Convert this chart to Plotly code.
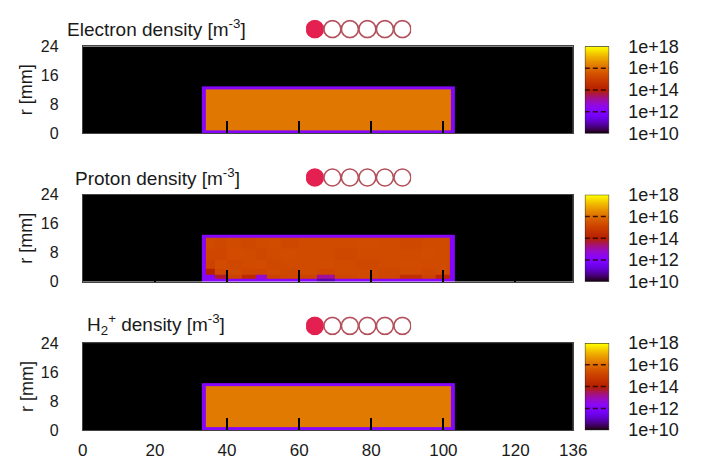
import math
import plotly.graph_objects as go

# ---------------- data ----------------
B = 10.0   # background (log10 density)
P = 12.2   # plasma edge
D = 11.0   # dark spot

# Electron density (log10 m^-3)
x_edges_e = [0, 33.1, 34.0, 102.0, 103.1, 136]
r_edges_e = [0, 0.9, 12.2, 13.1, 24]
z_e = [
    [B, P, P, P, B],
    [B, P, 16.2, P, B],
    [B, P, P, P, B],
    [B, B, B, B, B],
]

# Proton density (log10 m^-3)
x_edges_p = [0, 33.1, 34.0, 36.5, 40, 44, 48, 51, 55, 60, 65, 70, 76, 82, 88, 94, 98, 101.9, 103.1, 136]
r_edges_p = [0, 0.9, 2.0, 3.5, 6, 9, 12.2, 13.1, 24]
z_p = [
    [B, P, P, P, P, P, P, P, P, P, D, P, P, P, P, P, P, P, B],
    [B, P, P, 13.8, 15.1, 14.4, 12.8, 15.1, 15.2, 15.1, 13.2, 15.2, 15.3, 15.2, 14.6, 15.1, 14.3, P, B],
    [B, P, 14.0, 15.2, 15.3, 15.2, 15.2, 15.3, 15.25, 15.3, 15.2, 15.3, 15.3, 15.25, 15.3, 15.2, 15.3, P, B],
    [B, P, 15.1, 15.35, 15.25, 15.3, 15.35, 15.25, 15.3, 15.3, 15.35, 15.3, 15.25, 15.3, 15.35, 15.3, 15.3, P, B],
    [B, P, 15.2, 15.2, 15.35, 15.3, 15.25, 15.3, 15.35, 15.3, 15.3, 15.25, 15.3, 15.3, 15.3, 15.35, 15.3, P, B],
    [B, P, 15.3, 15.25, 15.3, 15.25, 15.3, 15.35, 15.25, 15.3, 15.3, 15.3, 15.35, 15.3, 15.25, 15.3, 15.3, P, B],
    [B, P, P, P, P, P, P, P, P, P, P, P, P, P, P, P, P, P, B],
    [B, B, B, B, B, B, B, B, B, B, B, B, B, B, B, B, B, B, B],
]

# H2+ density (log10 m^-3)
x_edges_h = [0, 33.1, 34.0, 102.0, 103.1, 136]
r_edges_h = [0, 0.9, 12.2, 13.1, 24]
z_h = [
    [B, P, P, P, B],
    [B, P, 16.25, P, B],
    [B, P, P, P, B],
    [B, B, B, B, B],
]

titles = ["Electron density [m<sup>-3</sup>]",
          "Proton density [m<sup>-3</sup>]",
          "H<sub>2</sub><sup>+</sup> density [m<sup>-3</sup>]"]
x_ticks = [0, 20, 40, 60, 80, 100, 120, 136]
r_ticks = [0, 8, 16, 24]
cb_ticks = [10, 12, 14, 16, 18]
cb_labels = ["1e+10", "1e+12", "1e+14", "1e+16", "1e+18"]
frames = [1, 2, 3, 4, 5, 6]
current_frame = 1

# ---------------- style ----------------
W, H = 701, 466
FONT = "Liberation Sans, Arial, sans-serif"
TXT = "#1a1a1a"


def pm3d(t):
    r = math.sqrt(t)
    g = t ** 3
    b = max(0.0, math.sin(2 * math.pi * t))
    return "rgb(%d,%d,%d)" % (round(255 * r), round(255 * g), round(255 * b))


cscale = [[i / 40, pm3d(i / 40)] for i in range(41)]


def fx(p):
    return p / W


def fy(p):
    return 1 - p / H


panel_tops = [38, 193, 348]
panel_h = 91
plot_l, plot_r = 80, 584
cb_l, cb_r = 596, 621
title_x = [62, 70, 82]

fig = go.Figure()
layout = dict(
    width=W, height=H,
    margin=dict(l=0, r=0, t=0, b=0),
    paper_bgcolor="white", plot_bgcolor="rgba(0,0,0,0)",
    showlegend=False,
    font=dict(family=FONT, color=TXT, size=16),
    shapes=[], annotations=[],
)

datasets = [(x_edges_e, r_edges_e, z_e), (x_edges_p, r_edges_p, z_p), (x_edges_h, r_edges_h, z_h)]

for i, (xe, re, zz) in enumerate(datasets):
    top = panel_tops[i]
    bot = top + panel_h
    ydom = [fy(bot), fy(top)]
    n = i + 1
    xa, ya = ("x" if n == 1 else "x%d" % n), ("y" if n == 1 else "y%d" % n)
    fig.add_trace(go.Heatmap(x=xe, y=re, z=zz, colorscale=cscale, zmin=10, zmax=18,
                             showscale=False, zsmooth=False, hoverinfo="skip",
                             xaxis=xa, yaxis=ya))
    layout["xaxis" if n == 1 else "xaxis%d" % n] = dict(
        domain=[fx(plot_l), fx(plot_r)], range=[0, 136], anchor=ya,
        tickvals=x_ticks, ticks="inside", ticklen=12, tickwidth=1.5, tickcolor="black",
        showticklabels=(n == 3), tickfont=dict(size=17, family=FONT, color=TXT),
        ticklabelstandoff=4,
        showline=True, linecolor="#444", linewidth=1, mirror=True,
        showgrid=False, zeroline=False, fixedrange=True,
    )
    layout["yaxis" if n == 1 else "yaxis%d" % n] = dict(
        domain=ydom, range=[0, 24], anchor=xa,
        tickvals=r_ticks, ticks="inside", ticklen=8, tickcolor="black",
        tickfont=dict(size=16, family=FONT, color=TXT), ticklabelstandoff=20,
        showline=True, linecolor="#444", linewidth=1, mirror=True,
        showgrid=False, zeroline=False, fixedrange=True,
    )

    # colour bar as its own small axes
    cn = n + 3
    cxa, cya = "x%d" % cn, "y%d" % cn
    fig.add_trace(go.Heatmap(x=[0, 1], y=[cb_ticks[0], cb_ticks[-1]],
                             z=[[cb_ticks[0], cb_ticks[0]], [cb_ticks[-1], cb_ticks[-1]]],
                             colorscale=cscale, zmin=10, zmax=18, zsmooth="best",
                             showscale=False, hoverinfo="skip", xaxis=cxa, yaxis=cya))
    layout["xaxis%d" % cn] = dict(domain=[fx(cb_l), fx(cb_r)], range=[0, 1], anchor=cya,
                                  visible=False, fixedrange=True)
    layout["yaxis%d" % cn] = dict(domain=ydom, range=[10, 18], anchor=cxa, side="right",
                                  tickvals=cb_ticks, ticktext=cb_labels, ticks="",
                                  tickfont=dict(size=18, family=FONT, color=TXT),
                                  ticklabelstandoff=18, showgrid=False, zeroline=False,
                                  showline=False, fixedrange=True)
    for v in cb_ticks[1:-1]:
        layout["shapes"].append(dict(type="line", xref=cxa, yref=cya, x0=0, x1=1, y0=v, y1=v,
                                     line=dict(color="rgba(40,0,0,0.85)", width=1.5, dash="5px,3px")))
    layout["shapes"].append(dict(type="rect", xref=cxa, yref=cya, x0=0, x1=1, y0=10, y1=18,
                                 line=dict(color="#222", width=1)))

    # frame indicator circles
    sn = n + 6
    sxa, sya = "x%d" % sn, "y%d" % sn
    cy = top - 18
    fig.add_trace(go.Scatter(
        x=frames, y=[0] * len(frames), mode="markers", hoverinfo="skip",
        marker=dict(size=17,
                    color=["#e3204f" if f == current_frame else "rgba(255,255,255,0)" for f in frames],
                    line=dict(color=["#e3204f" if f == current_frame else "#b4505c" for f in frames],
                              width=1.6)),
        xaxis=sxa, yaxis=sya))
    layout["xaxis%d" % sn] = dict(domain=[fx(309.5), fx(417.5)], range=[0.5, 6.5], anchor=sya,
                                  visible=False, fixedrange=True)
    layout["yaxis%d" % sn] = dict(domain=[fy(cy + 10), fy(cy - 10)], range=[-1, 1], anchor=sxa,
                                  visible=False, fixedrange=True)

    # titles
    layout["annotations"].append(dict(text=titles[i], xref="paper", yref="paper",
                                      x=fx(title_x[i]), y=fy(top - 19), xanchor="left",
                                      yanchor="middle", showarrow=False,
                                      font=dict(size=19, family=FONT, color=TXT)))
    layout["annotations"].append(dict(text="r [mm]", xref="paper", yref="paper",
                                      x=fx(22), y=fy(top + panel_h / 2), xanchor="center",
                                      yanchor="middle", textangle=-90, showarrow=False,
                                      font=dict(size=18, family=FONT, color=TXT)))

fig.update_layout(**layout)
fig.write_html("out.html", config={"displayModeBar": False},
               post_script="document.body.style.margin='0';"
                           "document.documentElement.style.overflow='hidden';")
